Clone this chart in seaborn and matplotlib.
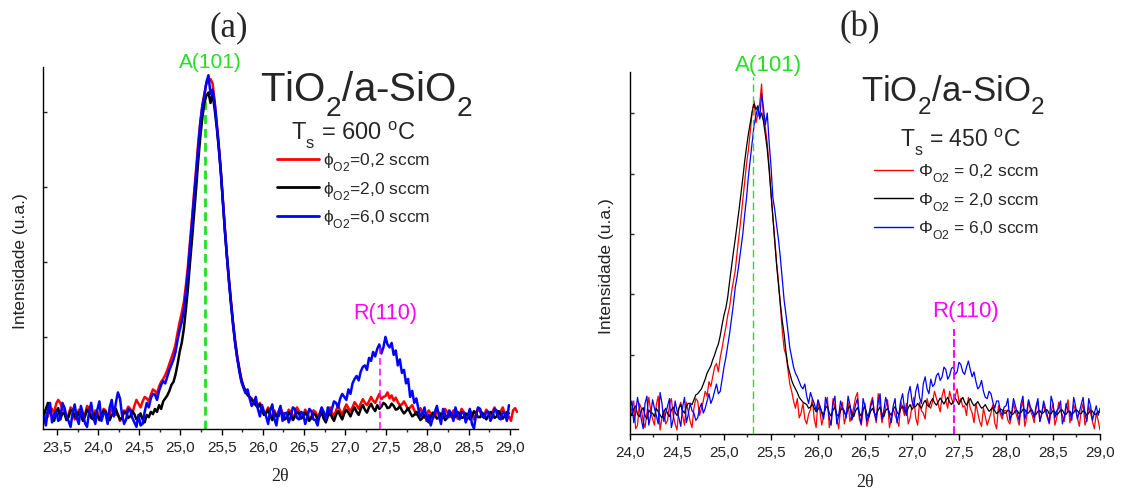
import numpy as np
import pandas as pd
import seaborn as sns
import matplotlib
import matplotlib.pyplot as plt
from matplotlib.ticker import FixedLocator, FuncFormatter, MultipleLocator, NullFormatter
from matplotlib.lines import Line2D

try:
    import matplotlib._mathtext as _mt
    _mt.FontConstantsBase.sub1 = 0.7
except Exception:
    pass

nan = np.nan
# ---------------- data ----------------
# panel (a): Ts = 600 C, 2theta scan 23.34 .. 29.09, step 0.025
theta_a = np.round(23.34 + 0.025 * np.arange(231), 3)
red_a = [500, 455, 470, 530, 520, 490, 555, 580, 560, 520,
         500, 460, 480, 530, 510, 450, 470, 515, 495, 450,
         480, 540, 525, 470, 465, 510, 500, 455, 450, 520,
         510, 470, 470, 540, 515, 480, 485, 440, 460, 510,
         500, 535, 520, 490, 540, 580, 555, 530, 570, 600,
         590, 570, 615, 650, 640, 620, 670, 700, 720, 745,
         780, 820, 860, 900, 950, 1030, 1100, 1160, 1230, 1340,
         1470, 1630, 1790, 1960, 2120, 2290, 2430, 2540, 2620, 2690,
         2700, 2720, 2690, 2570, 2430, 2280, 2110, 1910, 1720, 1540,
         1380, 1230, 1090, 970, 870, 790, 720, 670, 640, 610,
         600, 590, 565, 545, 540, 560, 520, 480, 500, 530,
         490, 455, 510, 480, 480, 525, 495, 450, 470, 515,
         500, 460, 485, 530, 505, 470, 480, 515, 495, 455,
         470, 510, 500, 465, 490, 525, 480, 450, 500, 530,
         495, 470, 510, 545, 505, 480, 520, 550, 525, 505,
         530, 565, 545, 520, 555, 585, 560, 545, 570, 600,
         575, 560, 590, 620, 585, 600, 605, 630, 590, 610,
         575, 595, 565, 545, 550, 570, 545, 515, 530, 545,
         510, 480, 500, 525, 495, 460, 485, 510, 490, 455,
         475, 505, 495, 460, 480, 520, 500, 465, 470, 510,
         490, 455, 480, 520, 500, 470, 475, 510, 490, 450,
         485, 525, 500, 470, 480, 515, 495, 465, 500, 530,
         490, 470, 505, 530, 485, 450, 470, 440, 510, 525,
         500]
black_a = [480, 520, 560, 500, 470, 440, 500, 525, 450, 490,
           490, 445, 465, 510, 505, 470, 455, 500, 480, 440,
           470, 515, 495, 460, 450, 490, 480, 445, 470, 510,
           500, 465, 445, 480, 490, 520, 480, 450, 460, 500,
           495, 460, 470, 505, 485, 450, 460, 490, 450, 430,
           480, 465, 500, 485, 520, 500, 545, 520, 570, 590,
           610, 640, 680, 700, 750, 820, 900, 960, 1050, 1180,
           1320, 1490, 1650, 1820, 1990, 2170, 2330, 2460, 2560, 2610,
           2630, 2560, 2620, 2520, 2400, 2260, 2100, 1900, 1700, 1530,
           1370, 1220, 1080, 960, 860, 780, 710, 670, 640, 615,
           600, 580, 570, 545, 530, 550, 510, 480, 490, 515,
           475, 445, 495, 470, 470, 505, 485, 450, 460, 495,
           480, 445, 470, 500, 490, 455, 465, 495, 475, 440,
           460, 490, 480, 450, 470, 500, 455, 430, 470, 495,
           465, 440, 480, 505, 475, 450, 490, 515, 495, 470,
           505, 530, 500, 480, 520, 545, 515, 495, 530, 555,
           525, 505, 545, 520, 535, 560, 550, 525, 530, 555,
           540, 515, 520, 540, 510, 490, 505, 525, 495, 470,
           480, 500, 470, 445, 460, 480, 455, 430, 470, 495,
           480, 455, 465, 490, 475, 445, 460, 485, 480, 455,
           470, 500, 485, 460, 465, 490, 480, 450, 470, 505,
           490, 465, 465, 495, 480, 450, 475, 500, 490, 460,
           470, 505, 485, 455, 475, 500, 490, nan, nan, nan,
           nan]
blue_a = [470, 410, 520, 560, 430, 480, 505, 440, 455, 560,
          530, 470, 440, 400, 495, 550, 460, 420, 540, 490,
          425, 400, 500, 560, 470, 420, 515, 570, 440, 490,
          490, 420, 530, 580, 470, 560, 630, 590, 480, 420,
          450, 520, 510, 460, 430, 400, 480, 410, 420, 500,
          560, 530, 590, 620, 615, 580, 640, 680, 705, 690,
          735, 780, 815, 850, 900, 980, 1045, 1100, 1170, 1290,
          1430, 1600, 1760, 1930, 2090, 2260, 2420, 2540, 2610, 2700,
          2745, 2620, 2650, 2560, 2420, 2270, 2100, 1900, 1710, 1530,
          1360, 1210, 1075, 950, 855, 770, 700, 660, 625, 650,
          590, 540, 560, 600, 520, 470, 545, 500, 470, 420,
          510, 550, 455, 410, 500, 540, 440, 490, 495, 430,
          470, 530, 520, 460, 450, 500, 490, 420, 460, 520,
          505, 450, 445, 410, 480, 530, 500, 450, 530, 490,
          520, 570, 560, 530, 590, 620, 600, 580, 650, 620,
          690, 720, 740, 710, 770, 800, 810, 780, 860, 840,
          900, 870, 920, 950, 890, 930, 1000, 950, 930, 960,
          880, 910, 810, 850, 760, 780, 690, 720, 600, 640,
          560, 590, 520, 470, 490, 530, 440, 480, 410, 460,
          500, 540, 470, 420, 520, 480, 460, 510, 490, 440,
          530, 480, 450, 500, 495, 430, 470, 520, 420, 390,
          480, 530, 520, 470, 460, 500, 500, 440, 470, 520,
          510, 460, 450, 500, 490, 440, 545, nan, nan, nan,
          nan]

# panel (b): Ts = 450 C, 2theta scan 24.00 .. 29.00, step 0.02
theta_b = np.round(24.0 + 0.02 * np.arange(251), 3)
red_b = [480, 560, 620, 390, 420, 600, 560, 450, 400, 520,
         650, 540, 470, 420, 590, 660, 380, 480, 540, 430,
         460, 590, 640, 500, 430, 380, 560, 610, 500, 420,
         610, 530, 450, 400, 560, 640, 620, 500, 560, 620,
         700, 660, 780, 740, 820, 900, 930, 860, 980, 1060,
         1150, 1230, 1330, 1400, 1520, 1610, 1700, 1850, 1990, 2130,
         2280, 2430, 2580, 2700, 2850, 3010, 3100, 2920, 2990, 3080,
         3240, 2950, 2880, 2750, 2560, 2340, 2150, 1960, 1760, 1600,
         1400, 1200, 1050, 1000, 880, 760, 700, 620, 560, 640,
         480, 520, 600, 470, 430, 510, 550, 640, 470, 400,
         620, 540, 420, 500, 580, 650, 400, 460, 640, 560,
         480, 390, 560, 610, 430, 500, 610, 450, 500, 570,
         650, 690, 470, 420, 540, 600, 410, 480, 600, 650,
         520, 440, 680, 580, 440, 510, 570, 630, 400, 470,
         560, 500, 460, 410, 620, 560, 500, 600, 430, 480,
         580, 650, 480, 420, 610, 540, 520, 470, 640, 580,
         560, 620, 700, 640, 590, 530, 660, 720, 620, 560,
         700, 640, 600, 660, 720, 610, 640, 570, 580, 500,
         650, 560, 520, 440, 600, 520, 450, 410, 560, 490,
         420, 470, 520, 590, 440, 390, 580, 510, 470, 540,
         540, 460, 430, 500, 600, 530, 480, 420, 560, 620,
         410, 480, 620, 540, 500, 440, 560, 610, 450, 520,
         590, 530, 480, 430, 530, 600, 420, 480, 610, 540,
         500, 450, 560, 630, 440, 500, 590, 540, 480, 410,
         540, 600, 420, 470, 580, 520, 450, 390, 520, 460,
         380]
black_b = [530, 500, 555, 580, 510, 490, 540, 565, 500, 470,
           545, 520, 520, 490, 560, 530, 505, 480, 530, 560,
           515, 490, 545, 570, 525, 500, 560, 590, 540, 520,
           575, 600, 600, 590, 630, 670, 680, 700, 720, 760,
           800, 850, 880, 910, 960, 1000, 1050, 1090, 1160, 1250,
           1330, 1390, 1480, 1610, 1730, 1850, 1960, 2080, 2200, 2330,
           2460, 2600, 2720, 2830, 2920, 3010, 3080, 3030, 3060, 2960,
           3000, 2930, 2820, 2700, 2530, 2330, 2130, 1920, 1740, 1580,
           1420, 1280, 1170, 1020, 910, 850, 790, 750, 720, 690,
           650, 630, 610, 600, 590, 560, 570, 595, 560, 530,
           550, 575, 530, 505, 560, 580, 520, 495, 545, 570,
           510, 490, 540, 565, 525, 500, 555, 580, 515, 490,
           540, 565, 520, 495, 550, 575, 510, 485, 535, 560,
           520, 500, 545, 570, 515, 490, 540, 560, 525, 500,
           550, 575, 530, 505, 555, 580, 540, 515, 565, 590,
           550, 570, 575, 600, 580, 560, 600, 625, 590, 570,
           615, 640, 605, 585, 615, 645, 620, 595, 625, 650,
           610, 590, 620, 645, 615, 590, 625, 650, 610, 585,
           620, 640, 605, 580, 595, 615, 585, 560, 570, 590,
           560, 535, 550, 570, 540, 515, 530, 555, 545, 520,
           520, 545, 535, 505, 515, 540, 540, 515, 525, 550,
           550, 520, 520, 545, 535, 505, 510, 535, 540, 515,
           525, 550, 545, 515, 515, 540, 530, 505, 520, 545,
           545, 515, 510, 535, 535, 505, 525, 550, 540, 515,
           515, 540, 530, 500, 520, 545, 535, 510, 510, 535,
           525]
blue_b = [560, 620, 440, 520, 650, 560, 470, 390, 600, 660,
          420, 500, 630, 560, 500, 430, 690, 600, 450, 520,
          580, 640, 400, 470, 620, 540, 480, 410, 570, 650,
          440, 510, 600, 540, 520, 460, 480, 560, 600, 520,
          560, 620, 680, 600, 640, 700, 760, 680, 700, 800,
          900, 980, 1080, 1180, 1300, 1420, 1560, 1650, 1760, 1880,
          2000, 2160, 2300, 2480, 2620, 2760, 2900, 2980, 3050, 2950,
          3160, 3040, 2900, 3000, 2760, 2560, 2300, 2200, 2070, 1950,
          1800, 1620, 1450, 1330, 1200, 1060, 980, 900, 850, 820,
          780, 740, 720, 760, 660, 600, 690, 640, 600, 540,
          630, 580, 520, 470, 650, 590, 480, 420, 600, 660,
          430, 500, 620, 560, 540, 480, 660, 590, 460, 520,
          590, 640, 500, 430, 640, 570, 450, 510, 570, 630,
          520, 460, 610, 680, 470, 540, 650, 590, 500, 440,
          580, 640, 440, 510, 620, 680, 560, 500, 680, 740,
          620, 570, 700, 760, 650, 600, 760, 820, 720, 680,
          800, 740, 760, 830, 850, 790, 820, 900, 880, 800,
          830, 890, 900, 840, 860, 940, 920, 860, 840, 900,
          950, 880, 820, 860, 780, 720, 740, 790, 700, 650,
          640, 700, 680, 610, 560, 620, 620, 540, 500, 570,
          580, 640, 460, 520, 640, 580, 520, 460, 600, 660,
          470, 530, 630, 570, 540, 480, 580, 640, 450, 510,
          620, 560, 500, 440, 660, 600, 480, 540, 560, 620,
          430, 490, 600, 540, 520, 460, 650, 580, 470, 530,
          590, 650, 510, 450, 640, 580, 460, 520, 580, 500,
          560]

labels_a = ['ϕ$_{O2}$=0,2 sccm', 'ϕ$_{O2}$=2,0 sccm', 'ϕ$_{O2}$=6,0 sccm']
labels_b = ['Φ$_{O2}$ = 0,2 sccm', 'Φ$_{O2}$ = 2,0 sccm', 'Φ$_{O2}$ = 6,0 sccm']
colors = ['#ff0000', '#000000', '#0000ff']
anatase_pos = {'a': 25.30, 'b': 25.31}
rutile_pos = {'a': 27.42, 'b': 27.45}
xticks_a = [23.5, 24.0, 24.5, 25.0, 25.5, 26.0, 26.5, 27.0, 27.5, 28.0, 28.5, 29.0]
xticks_b = [24.0, 24.5, 25.0, 25.5, 26.0, 26.5, 27.0, 27.5, 28.0, 28.5, 29.0]

# ---------------- style ----------------
sns.set_theme(style='ticks')
plt.rcParams['font.family'] = ['Liberation Sans', 'DejaVu Sans']
plt.rcParams['mathtext.fontset'] = 'custom'
plt.rcParams['mathtext.rm'] = 'Liberation Sans'
plt.rcParams['mathtext.it'] = 'Liberation Sans:italic'
plt.rcParams['mathtext.default'] = 'regular'

W, H = 1125, 489
fig = plt.figure(figsize=(W / 100, H / 100), dpi=100)
fig.patch.set_facecolor('white')

def fx(p):
    return p / W

def fy(p):
    return 1 - p / H

ax1 = fig.add_axes([fx(43), fy(430), 475 / W, 362 / H])
ax2 = fig.add_axes([fx(630), fy(435), 470 / W, 362 / H])

def long_df(theta, series, labels):
    frames = []
    for vals, lab in zip(series, labels):
        frames.append(pd.DataFrame({'2θ': theta, 'I': vals, 'amostra': lab}))
    return pd.concat(frames, ignore_index=True)

df_a = long_df(theta_a, [red_a, black_a, blue_a], labels_a)
df_b = long_df(theta_b, [red_b, black_b, blue_b], labels_b)

green = '#22e022'
magenta = '#ff00ff'

def setup(ax, df, labels, lw, xlim, ylim, yticks, xticks):
    sns.lineplot(data=df, x='2θ', y='I', hue='amostra', hue_order=labels,
                 palette=colors, estimator=None, sort=False, linewidth=lw,
                 legend=False, ax=ax)
    ax.set_xlim(*xlim)
    ax.set_ylim(*ylim)
    sns.despine(ax=ax)
    for s in ['left', 'bottom']:
        ax.spines[s].set_linewidth(1.0)
        ax.spines[s].set_color('black')
    ax.xaxis.set_major_locator(FixedLocator(xticks))
    ax.xaxis.set_minor_locator(MultipleLocator(0.25))
    ax.xaxis.set_major_formatter(FuncFormatter(lambda v, p: f'{v:.1f}'.replace('.', ',')))
    ax.yaxis.set_major_locator(FixedLocator(yticks))
    ax.yaxis.set_major_formatter(NullFormatter())
    ax.tick_params(axis='x', which='major', direction='out', length=4.3, width=1.0,
                   labelsize=11, pad=3.5, colors='black', labelcolor='#222222')
    ax.tick_params(axis='x', which='minor', direction='out', length=2.4, width=1.0)
    ax.tick_params(axis='y', which='major', direction='in', length=3, width=1.0)
    ax.set_xlabel('2θ', family='Liberation Serif', fontsize=13, color='#222222')
    ax.set_ylabel('Intensidade (u.a.)', fontsize=12.5, color='#222222')

setup(ax1, df_a, labels_a, 1.8, (23.33, 29.10), (386, 2800),
      [500, 1000, 1500, 2000, 2500], xticks_a)
setup(ax2, df_b, labels_b, 0.9, (24.0, 29.0), (347, 3339),
      [500, 1000, 1500, 2000, 2500, 3000], xticks_b)

ax1.xaxis.set_label_coords(0.5, -0.105)
ax2.xaxis.set_label_coords(0.5, -0.108)
ax1.yaxis.set_label_coords(-0.031, 0.467)
ax2.yaxis.set_label_coords(-0.035, 0.467)

# reference lines
ax1.vlines(anatase_pos['a'], 386, 2570, colors=green, linewidth=2.0,
           linestyles=(0, (3.2, 1.8)), zorder=1.5)
ax1.vlines(rutile_pos['a'], 386, 940, colors=magenta, linewidth=1.1,
           linestyles=(0, (4.5, 2.5)), zorder=3)
ax2.vlines(anatase_pos['b'], 347, 3300, colors=green, linewidth=1.0,
           linestyles=(0, (5.5, 3)), zorder=3)
ax2.vlines(rutile_pos['b'], 347, 1215, colors=magenta, linewidth=1.4,
           linestyles=(0, (4, 1.6)), zorder=3)

# legends
h_a = [Line2D([], [], color=c, linewidth=2.0) for c in colors]
ax1.legend(h_a, labels_a, loc='upper left', bbox_to_anchor=(0.493, 0.768),
           frameon=False, fontsize=12.5, handlelength=2.4, handletextpad=0.25,
           labelspacing=0.35, borderpad=0, borderaxespad=0)
h_b = [Line2D([], [], color=c, linewidth=1.0) for c in colors]
ax2.legend(h_b, labels_b, loc='upper left', bbox_to_anchor=(0.519, 0.751),
           frameon=False, fontsize=12.5, handlelength=2.25, handletextpad=0.3,
           labelspacing=0.35, borderpad=0, borderaxespad=0)

# texts
fig.text(fx(229), fy(28), '(a)', family='Liberation Serif', fontsize=25, ha='center', va='center')
fig.text(fx(860), fy(28), '(b)', family='Liberation Serif', fontsize=25, ha='center', va='center')
fig.text(fx(366), fy(102), 'TiO$_2$/a-SiO$_2$', fontsize=29, ha='center', va='baseline')
fig.text(fx(953), fy(102), 'TiO$_2$/a-SiO$_2$', fontsize=25, ha='center', va='baseline')
fig.text(fx(353), fy(140), 'T$_s$ = 600 $^o$C', fontsize=17, ha='center', va='baseline')
fig.text(fx(960), fy(147), 'T$_s$ = 450 $^o$C', fontsize=16.5, ha='center', va='baseline')
fig.text(fx(210), fy(63), 'A(101)', color=green, fontsize=15, ha='center', va='center')
fig.text(fx(769), fy(65), 'A(101)', color=green, fontsize=16, ha='center', va='center')
fig.text(fx(385), fy(313), 'R(110)', color=magenta, fontsize=15.5, ha='center', va='center')
fig.text(fx(965), fy(312), 'R(110)', color=magenta, fontsize=16, ha='center', va='center')

fig.savefig('out.png', dpi=100, facecolor='white')
